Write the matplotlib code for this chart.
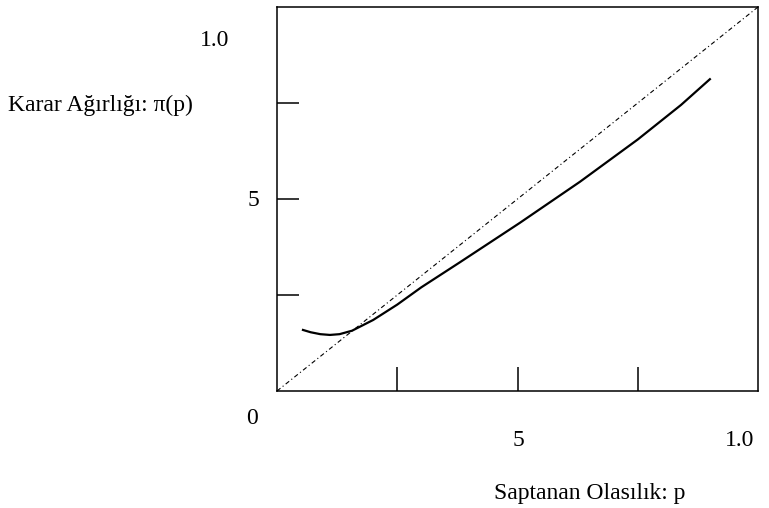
import matplotlib
matplotlib.use("Agg")
import matplotlib.pyplot as plt

# curve: decision weight pi(p) vs stated probability p
p = [0.054, 0.07, 0.09, 0.11, 0.13, 0.156, 0.20, 0.25, 0.30, 0.38, 0.505, 0.63, 0.75, 0.84, 0.90]
pi_p = [0.159, 0.153, 0.148, 0.146, 0.148, 0.157, 0.185, 0.225, 0.270, 0.335, 0.438, 0.545, 0.655, 0.745, 0.812]

diag = [0.0, 1.0]
xticks = [0.25, 0.5, 0.75]
yticks = [0.25, 0.5, 0.75]

W, H = 769, 508
fig = plt.figure(figsize=(W / 100, H / 100), dpi=100)
ax = fig.add_axes([277 / W, (H - 391) / H, 481 / W, 384 / H])

ax.plot(diag, diag, color="black", lw=0.8, dashes=(4, 2.5, 1, 2.5))
ax.plot(p, pi_p, color="black", lw=1.6)

ax.set_xlim(0, 1)
ax.set_ylim(0, 1)
ax.set_xticks(xticks)
ax.set_yticks(yticks)
ax.tick_params(direction="in", length=16, width=1.1, labelbottom=False, labelleft=False)
ax.tick_params(axis="x", length=17)
for s in ax.spines.values():
    s.set_linewidth(1.1)

font = dict(family="Liberation Serif", fontsize=17, color="black")


def put(px, py, s, **kw):
    fig.text(px / W, 1 - py / H, s, **font, **kw)


put(215, 40, "1.0", ha="center", va="center")
put(253, 200, "5", ha="center", va="center")
put(252, 418, "0", ha="center", va="center")
put(518, 440, "5", ha="center", va="center")
put(740, 440, "1.0", ha="center", va="center")
put(8, 105, "Karar Ağırlığı: π(p)", ha="left", va="center")
put(590, 493, "Saptanan Olasılık: p", ha="center", va="center")

fig.savefig("out.png", dpi=100)
